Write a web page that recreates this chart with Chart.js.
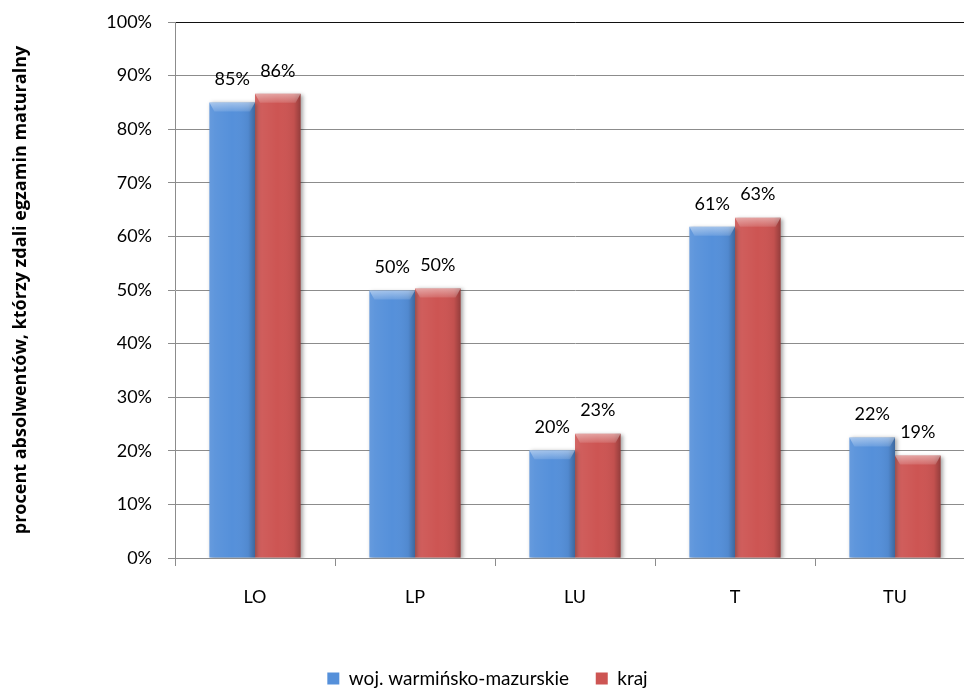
<!DOCTYPE html>
<html lang="pl">
<head>
    <meta charset="UTF-8">
    <title>Zdawalność egzaminu maturalnego</title>
    <script src="https://cdn.jsdelivr.net/npm/chart.js"></script>
    <style>
        html, body {
            margin: 0;
            padding: 0;
            background: #fff;
            overflow: hidden;
        }
        .chart-box {
            position: relative;
            width: 976px;
            height: 688px;
        }
    </style>
</head>
<body>
    <div class="chart-box">
        <canvas id="passChart"></canvas>
    </div>

    <script>
        // Data
        const categories = ['LO', 'LP', 'LU', 'T', 'TU'];
        const seriesNames = ['woj. warmińsko-mazurskie', 'kraj'];
        const regionValues = [85.0, 49.9, 20.1, 61.8, 22.5];
        const countryValues = [86.6, 50.3, 23.2, 63.5, 19.1];
        const regionLabels = ['85%', '50%', '20%', '61%', '22%'];
        const countryLabels = ['86%', '50%', '23%', '63%', '19%'];
        const yTicks = [0, 10, 20, 30, 40, 50, 60, 70, 80, 90, 100];
        const yTitle = 'procent absolwentów, którzy zdali egzamin maturalny';

        const FONT = 'Lato, "Open Sans", sans-serif';
        const barColors = ['#5590da', '#cd5553'];
        const gridColor = '#8c8c8c';

        // shadow under bars + bevel / gradient look + value labels
        const barLook = {
            id: 'barLook',
            beforeDatasetsDraw(chart) {
                const ctx = chart.ctx;
                ctx.save();
                ctx.shadowColor = 'rgba(0,0,0,0.35)';
                ctx.shadowBlur = 4;
                ctx.shadowOffsetX = 2;
                ctx.shadowOffsetY = 1;
            },
            afterDatasetsDraw(chart) {
                const ctx = chart.ctx;
                ctx.restore();
                const labelSets = [regionLabels, countryLabels];
                chart.data.datasets.forEach((ds, di) => {
                    const meta = chart.getDatasetMeta(di);
                    meta.data.forEach((bar, i) => {
                        const left = bar.x - bar.width / 2;
                        const right = bar.x + bar.width / 2;
                        const top = bar.y;
                        const h = bar.base - bar.y;
                        // horizontal shading
                        const g = ctx.createLinearGradient(left, 0, right, 0);
                        g.addColorStop(0, 'rgba(255,255,255,0.10)');
                        g.addColorStop(0.12, 'rgba(255,255,255,0.06)');
                        g.addColorStop(0.5, 'rgba(255,255,255,0)');
                        g.addColorStop(0.85, 'rgba(0,0,0,0.05)');
                        g.addColorStop(1, 'rgba(0,0,0,0.28)');
                        ctx.fillStyle = g;
                        ctx.fillRect(left, top, bar.width, h);
                        // top bevel
                        const bev = Math.min(9, h);
                        const tg = ctx.createLinearGradient(0, top, 0, top + bev);
                        tg.addColorStop(0, 'rgba(255,255,255,0.45)');
                        tg.addColorStop(1, 'rgba(255,255,255,0.12)');
                        ctx.fillStyle = tg;
                        ctx.beginPath();
                        ctx.moveTo(left, top);
                        ctx.lineTo(right, top);
                        ctx.lineTo(right - 5, top + bev);
                        ctx.lineTo(left + 5, top + bev);
                        ctx.closePath();
                        ctx.fill();
                        // value label
                        ctx.fillStyle = '#000';
                        ctx.font = '18px ' + FONT;
                        ctx.textAlign = 'center';
                        ctx.textBaseline = 'middle';
                        ctx.fillText(labelSets[di][i], bar.x, top - 23);
                    });
                });
            },
            afterDraw(chart) {
                // dark top edge of the plot area
                const { ctx, chartArea } = chart;
                ctx.save();
                ctx.strokeStyle = '#111';
                ctx.lineWidth = 1;
                ctx.beginPath();
                ctx.moveTo(chartArea.left + 1, Math.round(chartArea.top) + 0.5);
                ctx.lineTo(chartArea.right, Math.round(chartArea.top) + 0.5);
                ctx.stroke();
                ctx.restore();
            }
        };

        const ctx = document.getElementById('passChart').getContext('2d');
        new Chart(ctx, {
            type: 'bar',
            data: {
                labels: categories,
                datasets: [
                    {
                        label: seriesNames[0],
                        data: regionValues,
                        backgroundColor: barColors[0],
                        borderWidth: 0
                    },
                    {
                        label: seriesNames[1],
                        data: countryValues,
                        backgroundColor: barColors[1],
                        borderWidth: 0
                    }
                ]
            },
            options: {
                responsive: true,
                maintainAspectRatio: false,
                animation: false,
                categoryPercentage: 0.57,
                barPercentage: 1.0,
                layout: {
                    padding: { top: 22, right: 1, bottom: -10, left: 0 }
                },
                plugins: {
                    legend: {
                        position: 'bottom',
                        labels: {
                            color: '#000',
                            font: { family: FONT, size: 19 },
                            boxWidth: 12,
                            boxHeight: 12,
                            padding: 3,
                            generateLabels(chart) {
                                const items = Chart.defaults.plugins.legend.labels.generateLabels(chart);
                                // wider gap between the two legend entries
                                items.forEach((it, i) => {
                                    if (i < items.length - 1) it.text = it.text + '\u2003\u2002';
                                });
                                return items;
                            }
                        }
                    },
                    tooltip: { enabled: false }
                },
                scales: {
                    x: {
                        grid: {
                            offset: true,
                            drawOnChartArea: false,
                            color: gridColor,
                            tickLength: 8
                        },
                        border: { color: gridColor },
                        ticks: {
                            color: '#000',
                            font: { family: FONT, size: 18 },
                            padding: 20
                        },
                        afterFit(scale) { scale.height = 108; }
                    },
                    y: {
                        min: 0,
                        max: 100,
                        afterBuildTicks(scale) {
                            scale.ticks = yTicks.map(v => ({ value: v }));
                        },
                        grid: {
                            color: gridColor,
                            tickLength: 7
                        },
                        border: { color: gridColor },
                        ticks: {
                            color: '#000',
                            font: { family: FONT, size: 18 },
                            padding: 16,
                            callback: (v) => v + '%'
                        },
                        title: {
                            display: true,
                            text: yTitle,
                            color: '#000',
                            font: { family: '"Open Sans", sans-serif', size: 18, weight: 'bold' },
                            padding: { top: 10, bottom: 0 }
                        },
                        afterFit(scale) {
                            scale.width = 175;
                            scale.paddingTop = 0;
                            scale.paddingBottom = 0;
                        }
                    }
                }
            },
            plugins: [barLook]
        });
    </script>
</body>
</html>
